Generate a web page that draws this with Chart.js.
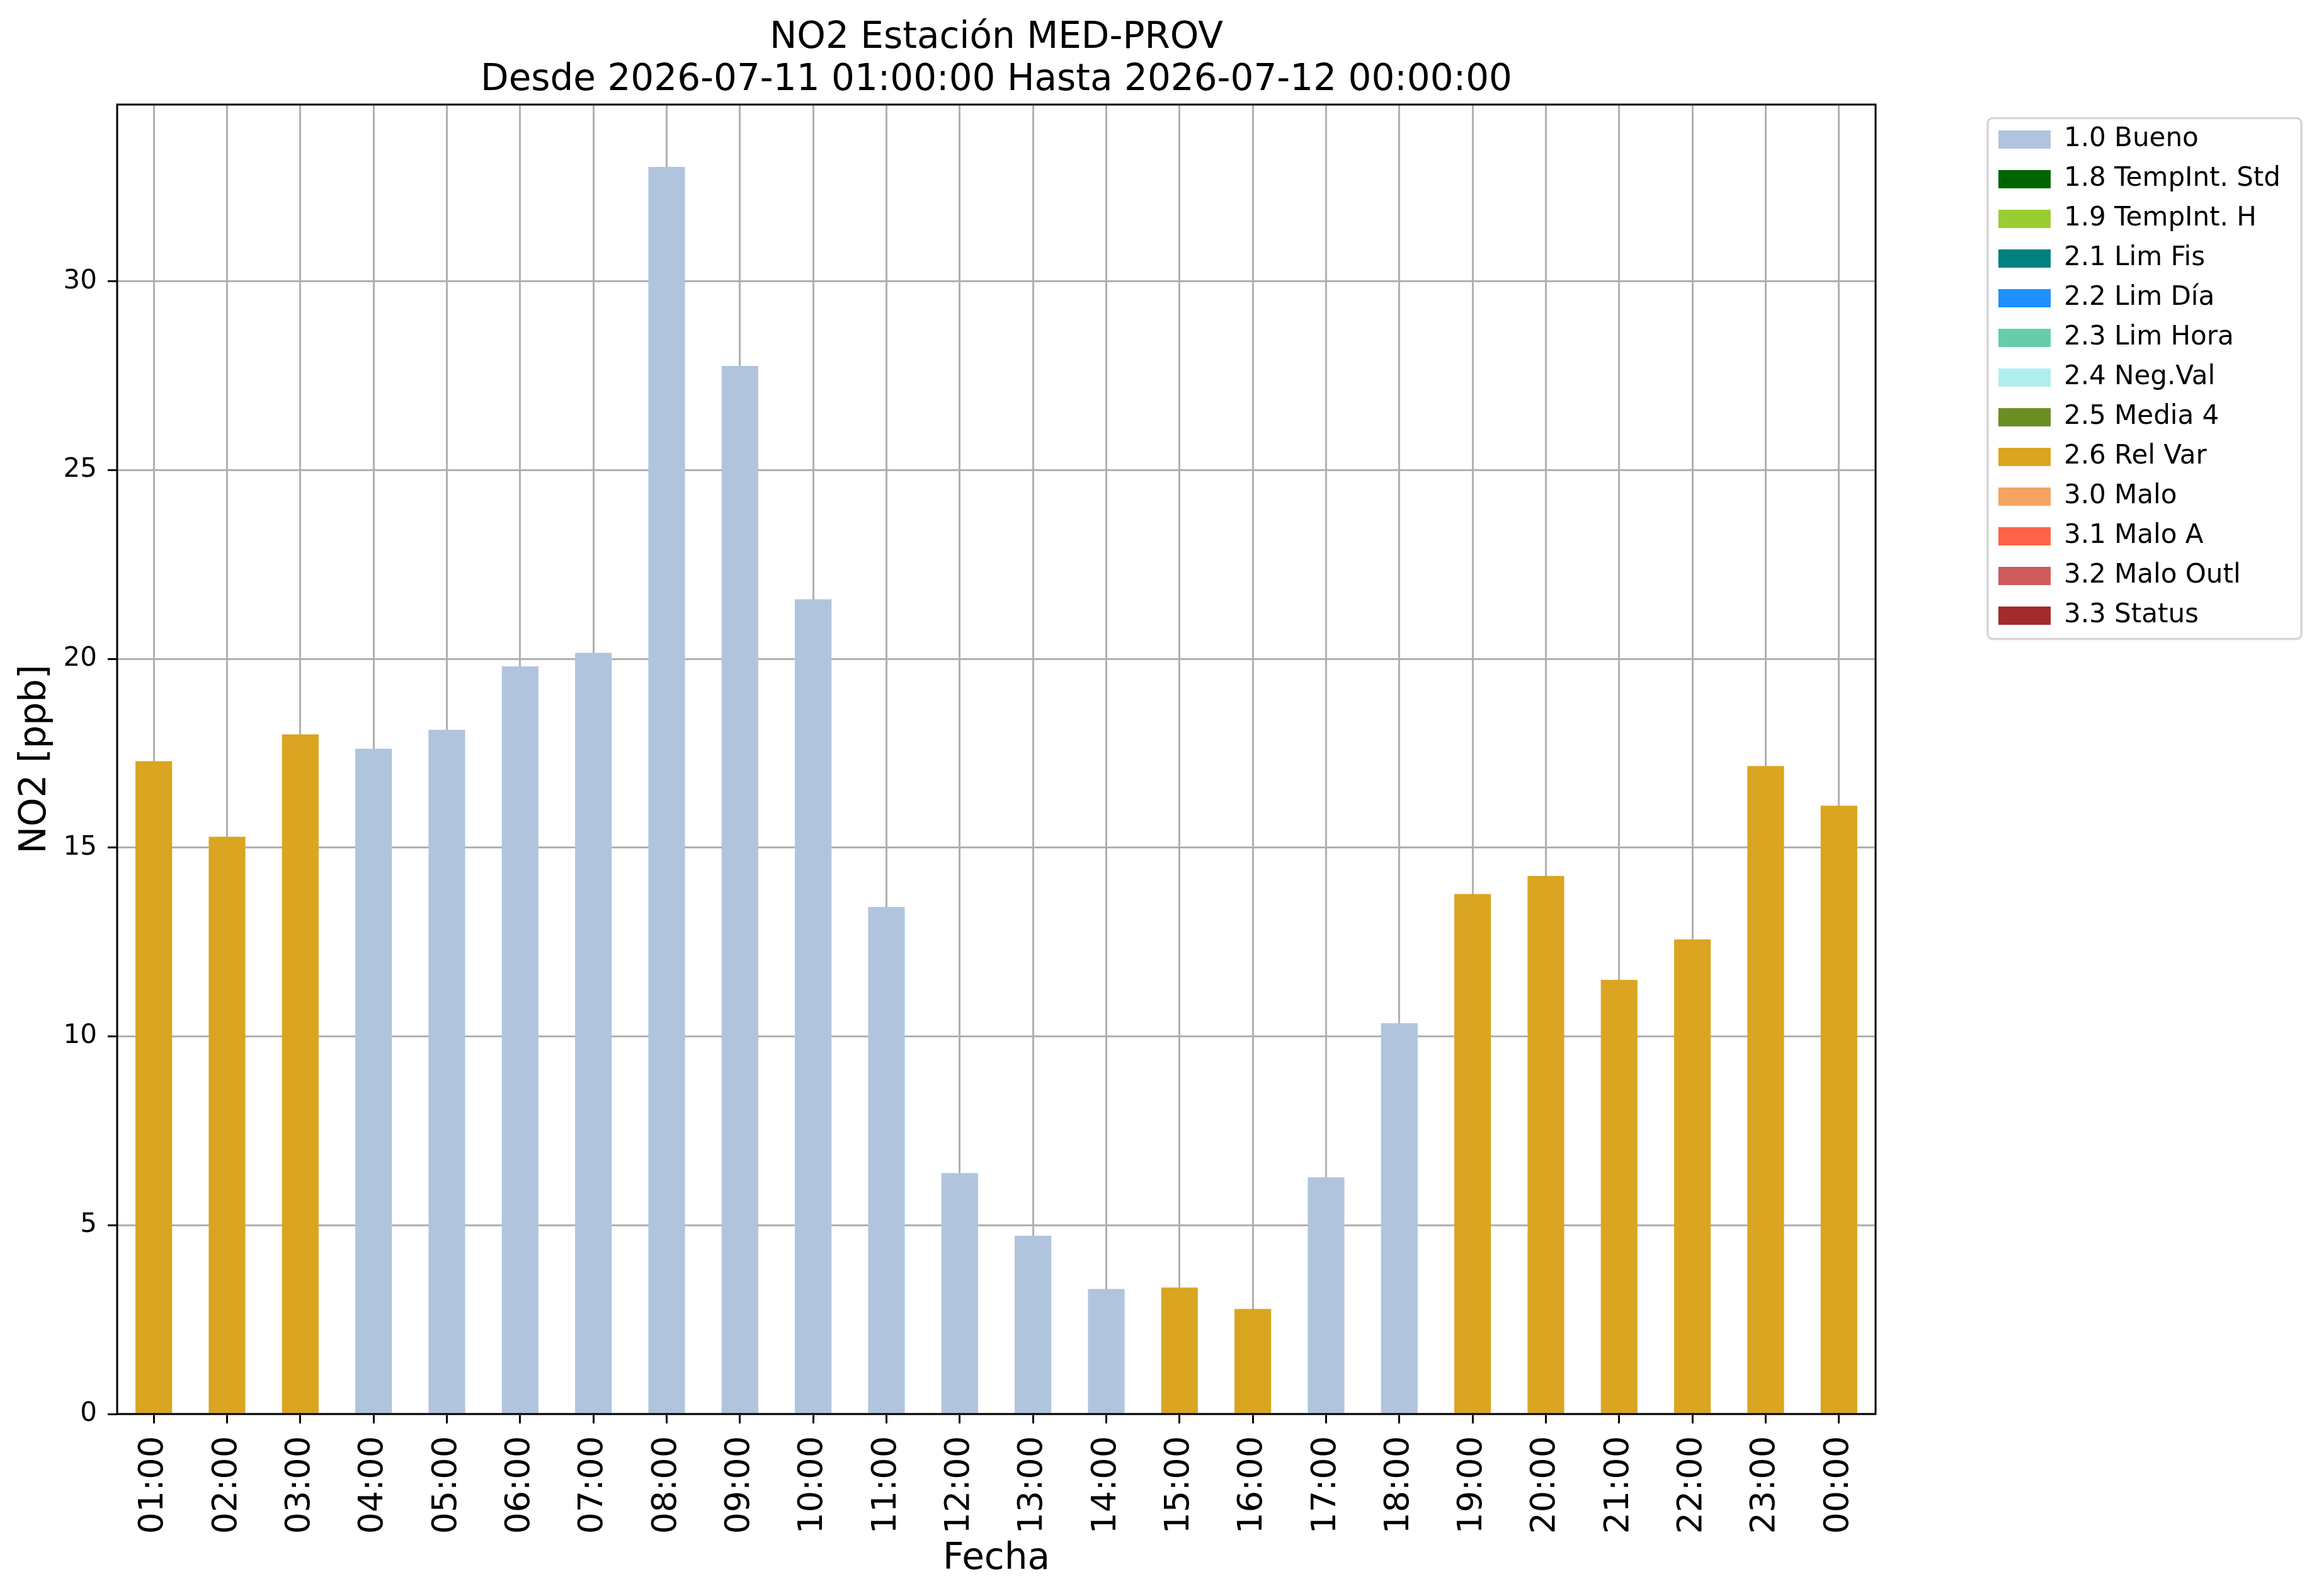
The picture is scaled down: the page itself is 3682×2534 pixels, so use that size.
<!DOCTYPE html>
<html>
<head>
<meta charset="utf-8">
<title>NO2 Estación MED-PROV</title>
<script src="https://cdn.jsdelivr.net/npm/chart.js@4.4.1/dist/chart.umd.min.js"></script>
<style>
  html, body { margin: 0; padding: 0; background: #fff; }
  canvas { display: block; }
</style>
</head>
<body>
<canvas id="myChart" width="3682" height="2534"></canvas>
<script>
// horas (eje x)
var hours = ['01:00', '02:00', '03:00', '04:00', '05:00', '06:00', '07:00', '08:00',
             '09:00', '10:00', '11:00', '12:00', '13:00', '14:00', '15:00', '16:00',
             '17:00', '18:00', '19:00', '20:00', '21:00', '22:00', '23:00', '00:00'];

// NO2 [ppb] por hora
var no2 = [17.29, 15.29, 18.0, 17.62, 18.12, 19.80, 20.16, 33.03,
           27.76, 21.58, 13.43, 6.38, 4.72, 3.31, 3.35, 2.78,
           6.27, 10.35, 13.77, 14.25, 11.50, 12.57, 17.16, 16.11];

// bandera de calidad por hora
var flags = ['2.6', '2.6', '2.6', '1.0', '1.0', '1.0', '1.0', '1.0',
             '1.0', '1.0', '1.0', '1.0', '1.0', '1.0', '2.6', '2.6',
             '1.0', '1.0', '2.6', '2.6', '2.6', '2.6', '2.6', '2.6'];

// categorias de la leyenda
var flagCodes = ['1.0', '1.8', '1.9', '2.1', '2.2', '2.3', '2.4', '2.5', '2.6', '3.0', '3.1', '3.2', '3.3'];
var flagNames = ['1.0 Bueno', '1.8 TempInt. Std', '1.9 TempInt. H', '2.1 Lim Fis', '2.2 Lim Día',
                 '2.3 Lim Hora', '2.4 Neg.Val', '2.5 Media 4', '2.6 Rel Var', '3.0 Malo',
                 '3.1 Malo A', '3.2 Malo Outl', '3.3 Status'];
var flagColors = ['#b0c4de', '#006400', '#9acd32', '#008080', '#1e90ff', '#66cdaa', '#afeeee',
                  '#6b8e23', '#daa520', '#f4a460', '#ff6347', '#cd5c5c', '#a52a2a'];

var yTicks = [0, 5, 10, 15, 20, 25, 30];

Chart.defaults.font.family = 'DejaVu Sans';
Chart.defaults.color = '#000';

var datasets = flagCodes.map(function (code, i) {
    return {
        label: flagNames[i],
        backgroundColor: flagColors[i],
        borderColor: flagColors[i],
        borderWidth: 0,
        barPercentage: 0.5,
        categoryPercentage: 1.0,
        data: no2.map(function (v, j) { return flags[j] === code ? v : null; })
    };
});

// marco del area de ejes y de la leyenda
var framePlugin = {
    id: 'frames',
    afterDraw: function (chart) {
        var ctx = chart.ctx;
        var a = chart.chartArea;
        ctx.save();
        ctx.strokeStyle = '#000';
        ctx.lineWidth = 3;
        ctx.strokeRect(a.left, a.top, a.right - a.left, a.bottom - a.top);

        var boxes = chart.legend.legendHitBoxes;
        var l = Infinity, t = Infinity, r = -Infinity, b = -Infinity;
        boxes.forEach(function (h) {
            l = Math.min(l, h.left);
            t = Math.min(t, h.top);
            r = Math.max(r, h.left + h.width);
            b = Math.max(b, h.top + h.height);
        });
        ctx.strokeStyle = '#d6d6d6';
        ctx.lineWidth = 3.5;
        ctx.beginPath();
        ctx.roundRect(l - 17, t - 13, (r + 33) - (l - 17), (b + 16) - (t - 13), 8);
        ctx.stroke();
        ctx.restore();
    }
};

var myChart = new Chart(document.getElementById('myChart'), {
    type: 'bar',
    data: {
        labels: hours,
        datasets: datasets
    },
    plugins: [framePlugin],
    options: {
        responsive: false,
        animation: false,
        devicePixelRatio: 1,
        layout: {
            padding: { left: 0, right: 51, top: 0, bottom: 0 }
        },
        plugins: {
            tooltip: { enabled: false },
            title: {
                display: true,
                fullSize: false,
                text: ['NO2 Estación MED-PROV', 'Desde 2026-07-11 01:00:00 Hasta 2026-07-12 00:00:00'],
                font: { size: 58, weight: 'normal', lineHeight: 1.15 },
                color: '#000',
                padding: { top: 28, bottom: 4.6 }
            },
            legend: {
                display: true,
                position: 'right',
                align: 'start',
                fullSize: false,
                title: {
                    display: true,
                    text: '',
                    font: { size: 1 },
                    padding: { top: 6, bottom: 6.3 }
                },
                labels: {
                    boxWidth: 83,
                    boxHeight: 29,
                    padding: 21,
                    font: { size: 42 },
                    color: '#000'
                }
            }
        },
        scales: {
            x: {
                stacked: true,
                z: 1,
                grid: {
                    offset: false,
                    color: '#b0b0b0',
                    lineWidth: 3,
                    tickColor: '#000',
                    tickLength: 15,
                    tickWidth: 3
                },
                border: { display: false },
                ticks: {
                    autoSkip: false,
                    minRotation: 90,
                    maxRotation: 90,
                    padding: 20,
                    font: { size: 54 }
                },
                title: {
                    display: true,
                    text: 'Fecha',
                    font: { size: 58 },
                    padding: { top: 0, bottom: 23 }
                },
                afterFit: function (scale) { scale.height = 289; }
            },
            y: {
                stacked: true,
                z: 1,
                min: 0,
                max: Math.max.apply(null, no2) * 1.05,
                grid: {
                    color: '#b0b0b0',
                    lineWidth: 3,
                    tickColor: '#000',
                    tickLength: 15,
                    tickWidth: 3
                },
                border: { display: false },
                afterBuildTicks: function (scale) {
                    scale.ticks = yTicks.map(function (v) { return { value: v }; });
                },
                ticks: {
                    padding: 17,
                    font: { size: 42 }
                },
                title: {
                    display: true,
                    text: 'NO2 [ppb]',
                    font: { size: 58 },
                    padding: { top: 22, bottom: 0 }
                },
                afterFit: function (scale) { scale.width = 186; }
            },
            gap: {
                type: 'linear',
                position: 'right',
                display: true,
                grid: { display: false, drawTicks: false },
                border: { display: false },
                ticks: { display: false },
                afterFit: function (scale) { scale.width = 174; }
            }
        }
    }
});
</script>
</body>
</html>
